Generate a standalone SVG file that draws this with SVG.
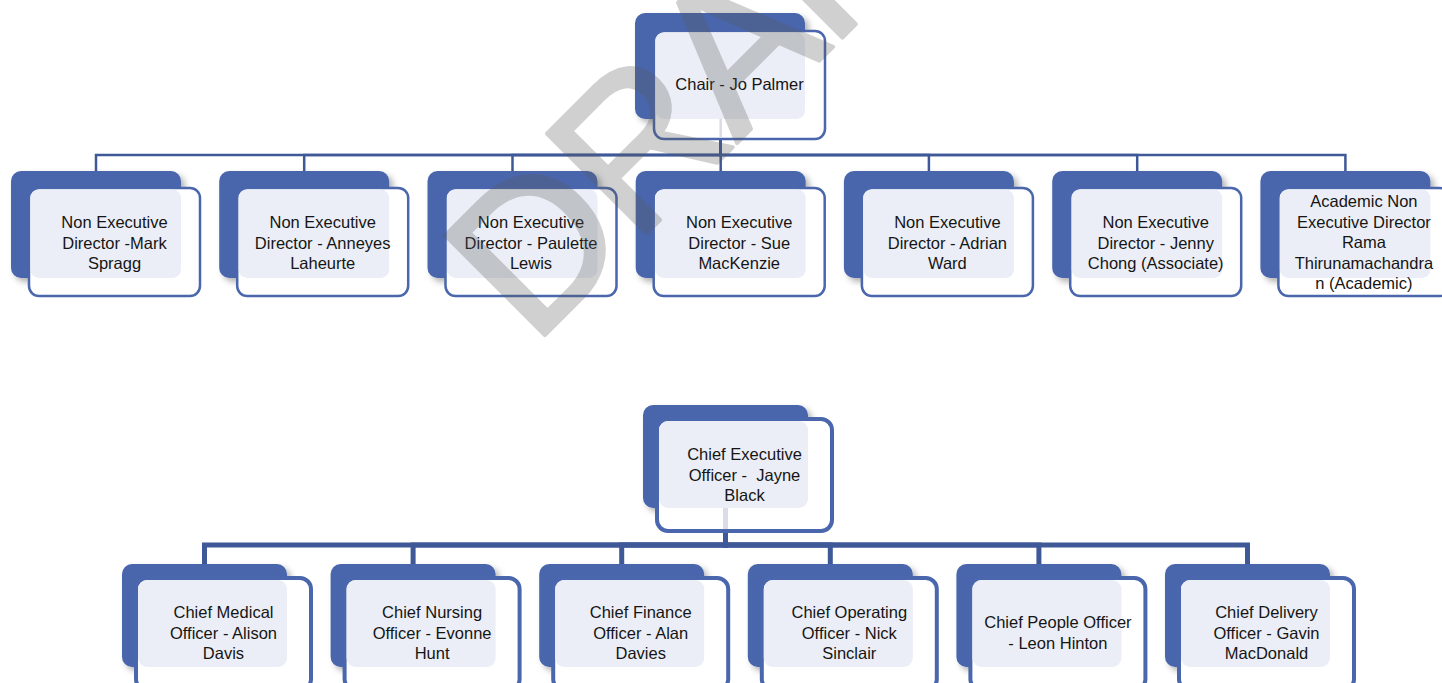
<svg xmlns="http://www.w3.org/2000/svg" width="1442" height="683" viewBox="0 0 1442 683">
<defs>
<filter id="sh" x="-10%" y="-10%" width="130%" height="130%">
<feDropShadow dx="4" dy="4" stdDeviation="3" flood-color="#000" flood-opacity="0.3"/>
</filter>
</defs>
<style>
.bk{fill:#4A66AC;filter:url(#sh)}
.ft{fill:#fff;stroke:#4A66AC;stroke-width:2.5}
.fb{fill:#fff;stroke:#4A66AC;stroke-width:4}
.tn{fill:#EBEEF6}
.ghost{stroke:#DADDE8;stroke-width:2.5}
.ct{fill:none;stroke:#3F5898;stroke-width:2.5}
.cb{fill:none;stroke:#3F5898;stroke-width:5}
text{font-family:"Liberation Sans",Arial,sans-serif;font-size:16.5px;fill:#151515;text-anchor:middle}
.wm{font-family:"Liberation Sans",Arial,sans-serif;font-size:205px;fill:#595959;stroke:#595959;stroke-width:4;stroke-linejoin:round;letter-spacing:-4px;text-anchor:start}
</style>
<rect width="1442" height="683" fill="#fff"/>
<g id="connectors">
<path class="ct" d="M720.7 139 V155 H96 V171"/>
<path class="ct" d="M720.7 139 V155 H304.2 V171"/>
<path class="ct" d="M720.7 139 V155 H512.5 V171"/>
<path class="ct" d="M720.7 139 V171"/>
<path class="ct" d="M720.7 139 V155 H928.9 V171"/>
<path class="ct" d="M720.7 139 V155 H1137.2 V171"/>
<path class="ct" d="M720.7 139 V155 H1345.4 V171"/>
<path class="cb" d="M725.5 531 V545 H204.5 V564"/>
<path class="cb" d="M725.5 531 V545 H413.1 V564"/>
<path class="cb" d="M725.5 531 V545 H621.7 V564"/>
<path class="cb" d="M725.5 531 V545 H830.3 V564"/>
<path class="cb" d="M725.5 531 V545 H1038.9 V564"/>
<path class="cb" d="M725.5 531 V545 H1247.5 V564"/>
</g>
<g id="chair">
<rect class="bk" x="635" y="13" width="170" height="106" rx="10"/>
<rect class="ft" x="654" y="31" width="171" height="108" rx="10"/>
<line class="ghost" x1="720.7" y1="119" x2="720.7" y2="137.5"/>
<rect class="tn" x="655.5" y="32.5" width="149.5" height="86.5" rx="8.5"/>
<text x="739.5" y="90">Chair - Jo Palmer</text>
</g>
<g id="ned1">
<rect class="bk" x="11" y="171" width="170" height="107" rx="10"/>
<rect class="ft" x="29" y="188" width="171" height="108" rx="10"/>
<rect class="tn" x="30.5" y="189.5" width="150.5" height="88.5" rx="8.5"/>
<text><tspan x="114.5" y="228">Non Executive</tspan><tspan x="114.5" y="248.5">Director -Mark</tspan><tspan x="114.5" y="269">Spragg</tspan></text>
</g>
<g id="ned2">
<rect class="bk" x="219.2" y="171" width="170" height="107" rx="10"/>
<rect class="ft" x="237.2" y="188" width="171" height="108" rx="10"/>
<rect class="tn" x="238.7" y="189.5" width="150.5" height="88.5" rx="8.5"/>
<text><tspan x="322.7" y="228">Non Executive</tspan><tspan x="322.7" y="248.5">Director - Anneyes</tspan><tspan x="322.7" y="269">Laheurte</tspan></text>
</g>
<g id="ned3">
<rect class="bk" x="427.5" y="171" width="170" height="107" rx="10"/>
<rect class="ft" x="445.5" y="188" width="171" height="108" rx="10"/>
<rect class="tn" x="447" y="189.5" width="150.5" height="88.5" rx="8.5"/>
<text><tspan x="531" y="228">Non Executive</tspan><tspan x="531" y="248.5">Director - Paulette</tspan><tspan x="531" y="269">Lewis</tspan></text>
</g>
<g id="ned4">
<rect class="bk" x="635.7" y="171" width="170" height="107" rx="10"/>
<rect class="ft" x="653.7" y="188" width="171" height="108" rx="10"/>
<rect class="tn" x="655.2" y="189.5" width="150.5" height="88.5" rx="8.5"/>
<text><tspan x="739.2" y="228">Non Executive</tspan><tspan x="739.2" y="248.5">Director - Sue</tspan><tspan x="739.2" y="269">MacKenzie</tspan></text>
</g>
<g id="ned5">
<rect class="bk" x="843.9" y="171" width="170" height="107" rx="10"/>
<rect class="ft" x="861.9" y="188" width="171" height="108" rx="10"/>
<rect class="tn" x="863.4" y="189.5" width="150.5" height="88.5" rx="8.5"/>
<text><tspan x="947.4" y="228">Non Executive</tspan><tspan x="947.4" y="248.5">Director - Adrian</tspan><tspan x="947.4" y="269">Ward</tspan></text>
</g>
<g id="ned6">
<rect class="bk" x="1052.2" y="171" width="170" height="107" rx="10"/>
<rect class="ft" x="1070.2" y="188" width="171" height="108" rx="10"/>
<rect class="tn" x="1071.7" y="189.5" width="150.5" height="88.5" rx="8.5"/>
<text><tspan x="1155.7" y="228">Non Executive</tspan><tspan x="1155.7" y="248.5">Director - Jenny</tspan><tspan x="1155.7" y="269">Chong (Associate)</tspan></text>
</g>
<g id="ned7">
<rect class="bk" x="1260.4" y="171" width="170" height="107" rx="10"/>
<rect class="ft" x="1278.4" y="188" width="171" height="108" rx="10"/>
<rect class="tn" x="1279.9" y="189.5" width="150.5" height="88.5" rx="8.5"/>
<text><tspan x="1363.9" y="207">Academic Non</tspan><tspan x="1363.9" y="227.5">Executive Director</tspan><tspan x="1363.9" y="248">Rama</tspan><tspan x="1363.9" y="268.5">Thirunamachandra</tspan><tspan x="1363.9" y="289">n (Academic)</tspan></text>
</g>
<g id="ceo">
<rect class="bk" x="643" y="405" width="165" height="103" rx="10"/>
<rect class="fb" x="657" y="419" width="175" height="112" rx="11"/>
<line class="ghost" x1="725.5" y1="508" x2="725.5" y2="529" style="stroke-width:5"/>
<rect class="tn" x="659" y="421" width="149" height="87" rx="9"/>
<text><tspan x="744.5" y="460">Chief Executive</tspan><tspan x="744.5" y="480.5">Officer - &#160;Jayne</tspan><tspan x="744.5" y="501">Black</tspan></text>
</g>
<g id="cmo">
<rect class="bk" x="122" y="564" width="165" height="103" rx="10"/>
<rect class="fb" x="136" y="578" width="175" height="112" rx="11"/>
<rect class="tn" x="138" y="580" width="149" height="87" rx="9"/>
<text><tspan x="223.5" y="618">Chief Medical</tspan><tspan x="223.5" y="638.5">Officer - Alison</tspan><tspan x="223.5" y="659">Davis</tspan></text>
</g>
<g id="cno">
<rect class="bk" x="330.6" y="564" width="165" height="103" rx="10"/>
<rect class="fb" x="344.6" y="578" width="175" height="112" rx="11"/>
<rect class="tn" x="346.6" y="580" width="149" height="87" rx="9"/>
<text><tspan x="432.1" y="618">Chief Nursing</tspan><tspan x="432.1" y="638.5">Officer - Evonne</tspan><tspan x="432.1" y="659">Hunt</tspan></text>
</g>
<g id="cfo">
<rect class="bk" x="539.2" y="564" width="165" height="103" rx="10"/>
<rect class="fb" x="553.2" y="578" width="175" height="112" rx="11"/>
<rect class="tn" x="555.2" y="580" width="149" height="87" rx="9"/>
<text><tspan x="640.7" y="618">Chief Finance</tspan><tspan x="640.7" y="638.5">Officer - Alan</tspan><tspan x="640.7" y="659">Davies</tspan></text>
</g>
<g id="coo">
<rect class="bk" x="747.8" y="564" width="165" height="103" rx="10"/>
<rect class="fb" x="761.8" y="578" width="175" height="112" rx="11"/>
<rect class="tn" x="763.8" y="580" width="149" height="87" rx="9"/>
<text><tspan x="849.3" y="618">Chief Operating</tspan><tspan x="849.3" y="638.5">Officer - Nick</tspan><tspan x="849.3" y="659">Sinclair</tspan></text>
</g>
<g id="cpo">
<rect class="bk" x="956.4" y="564" width="165" height="103" rx="10"/>
<rect class="fb" x="970.4" y="578" width="175" height="112" rx="11"/>
<rect class="tn" x="972.4" y="580" width="149" height="87" rx="9"/>
<text><tspan x="1057.9" y="628">Chief People Officer</tspan><tspan x="1057.9" y="648.5">- Leon Hinton</tspan></text>
</g>
<g id="cdo">
<rect class="bk" x="1165" y="564" width="165" height="103" rx="10"/>
<rect class="fb" x="1179" y="578" width="175" height="112" rx="11"/>
<rect class="tn" x="1181" y="580" width="149" height="87" rx="9"/>
<text><tspan x="1266.5" y="618">Chief Delivery</tspan><tspan x="1266.5" y="638.5">Officer - Gavin</tspan><tspan x="1266.5" y="659">MacDonald</tspan></text>
</g>
<g id="watermark" opacity="0.28">
<text class="wm" transform="translate(533 347) rotate(-45)">DRAFT</text>
</g>
</svg>
